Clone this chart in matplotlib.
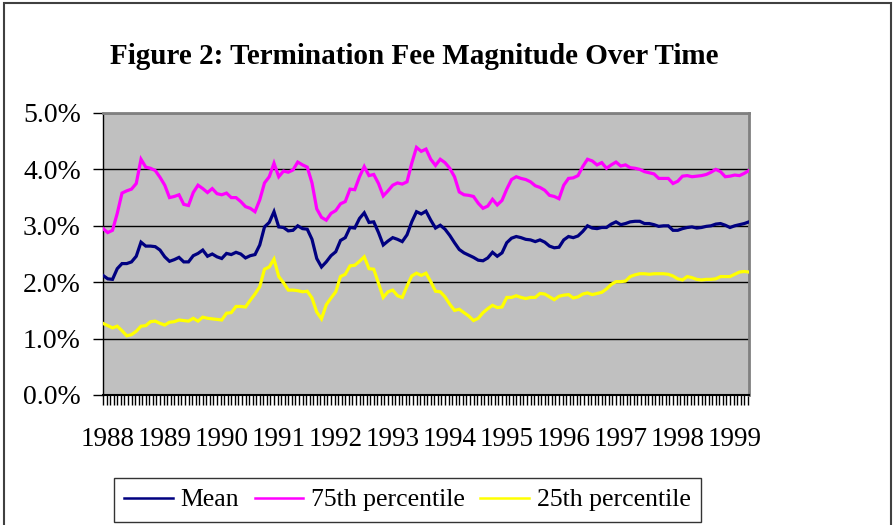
import numpy as np
import pandas as pd
import matplotlib
matplotlib.use("Agg")
import matplotlib.pyplot as plt
from matplotlib.patches import Rectangle
from matplotlib.ticker import FixedLocator, FuncFormatter

# ---- data (monthly, Dec 1987 .. Apr 1999), values in percent ----
months = pd.date_range("1987-12-01", periods=137, freq="MS")

mean_pct = [
    2.12, 2.06, 2.05, 2.24, 2.33, 2.33, 2.36, 2.46, 2.71, 2.64,
    2.64, 2.63, 2.57, 2.45, 2.37, 2.40, 2.44, 2.36, 2.36, 2.47,
    2.51, 2.57, 2.46, 2.50, 2.45, 2.42, 2.51, 2.49, 2.53, 2.50,
    2.43, 2.47, 2.49, 2.66, 2.98, 3.06, 3.25, 2.98, 2.97, 2.91,
    2.92, 3.00, 2.95, 2.94, 2.76, 2.42, 2.27, 2.36, 2.47, 2.54,
    2.74, 2.79, 2.97, 2.96, 3.13, 3.23, 3.06, 3.07, 2.88, 2.66,
    2.73, 2.79, 2.76, 2.72, 2.84, 3.07, 3.25, 3.21, 3.26, 3.10,
    2.96, 3.01, 2.94, 2.83, 2.70, 2.58, 2.52, 2.48, 2.44, 2.39,
    2.38, 2.43, 2.53, 2.46, 2.52, 2.70, 2.78, 2.81, 2.79, 2.76,
    2.75, 2.72, 2.75, 2.71, 2.64, 2.61, 2.62, 2.75, 2.81, 2.79,
    2.82, 2.90, 3.00, 2.96, 2.95, 2.97, 2.97, 3.03, 3.07, 3.02,
    3.04, 3.07, 3.08, 3.08, 3.04, 3.04, 3.02, 2.99, 3.00, 3.00,
    2.92, 2.92, 2.95, 2.97, 2.98, 2.96, 2.97, 2.99, 3.00, 3.03,
    3.04, 3.01, 2.97, 3.00, 3.02, 3.04, 3.07,
]

p75_pct = [
    2.95, 2.88, 2.92, 3.22, 3.58, 3.62, 3.65, 3.75, 4.18, 4.04,
    4.02, 3.98, 3.86, 3.72, 3.50, 3.52, 3.55, 3.38, 3.36, 3.59,
    3.72, 3.66, 3.59, 3.66, 3.57, 3.55, 3.58, 3.50, 3.50, 3.43,
    3.34, 3.31, 3.25, 3.46, 3.76, 3.87, 4.11, 3.87, 3.97, 3.95,
    3.99, 4.13, 4.08, 4.04, 3.76, 3.30, 3.15, 3.10, 3.22, 3.27,
    3.39, 3.43, 3.65, 3.64, 3.87, 4.05, 3.89, 3.91, 3.75, 3.53,
    3.62, 3.72, 3.76, 3.74, 3.78, 4.11, 4.39, 4.32, 4.36, 4.18,
    4.07, 4.18, 4.12, 4.02, 3.87, 3.60, 3.55, 3.54, 3.52, 3.40,
    3.31, 3.35, 3.47, 3.37, 3.45, 3.65, 3.82, 3.87, 3.84, 3.82,
    3.78, 3.71, 3.68, 3.63, 3.54, 3.52, 3.48, 3.72, 3.84, 3.85,
    3.89, 4.05, 4.18, 4.15, 4.08, 4.12, 4.02, 4.08, 4.13, 4.06,
    4.08, 4.03, 4.02, 4.00, 3.96, 3.94, 3.92, 3.84, 3.84, 3.84,
    3.75, 3.79, 3.88, 3.89, 3.87, 3.88, 3.89, 3.91, 3.95, 4.00,
    3.96, 3.87, 3.88, 3.90, 3.89, 3.93, 3.98,
]

p25_pct = [
    1.27, 1.23, 1.19, 1.22, 1.14, 1.05, 1.07, 1.13, 1.22, 1.23,
    1.30, 1.31, 1.27, 1.24, 1.29, 1.30, 1.33, 1.32, 1.31, 1.36,
    1.31, 1.38, 1.36, 1.35, 1.34, 1.33, 1.45, 1.46, 1.57, 1.57,
    1.56, 1.68, 1.79, 1.92, 2.23, 2.27, 2.41, 2.10, 1.99, 1.86,
    1.86, 1.85, 1.83, 1.84, 1.72, 1.47, 1.35, 1.60, 1.72, 1.83,
    2.10, 2.14, 2.29, 2.30, 2.37, 2.45, 2.24, 2.23, 1.98, 1.73,
    1.83, 1.86, 1.76, 1.73, 1.93, 2.11, 2.16, 2.12, 2.16, 2.01,
    1.84, 1.83, 1.74, 1.61, 1.50, 1.52, 1.46, 1.40, 1.32, 1.36,
    1.46, 1.53, 1.59, 1.55, 1.56, 1.73, 1.73, 1.76, 1.73, 1.71,
    1.73, 1.73, 1.80, 1.79, 1.74, 1.69, 1.75, 1.77, 1.78, 1.72,
    1.74, 1.79, 1.81, 1.78, 1.80, 1.82, 1.88, 1.96, 2.01, 2.01,
    2.02, 2.10, 2.13, 2.15, 2.15, 2.14, 2.15, 2.15, 2.15, 2.14,
    2.11, 2.06, 2.04, 2.10, 2.08, 2.05, 2.04, 2.05, 2.05, 2.06,
    2.10, 2.10, 2.10, 2.14, 2.18, 2.19, 2.18,
]

year_labels = [str(y) for y in range(1988, 2000)]
series_names = ["Mean", "75th percentile", "25th percentile"]
series_colors = ["#000080", "#FF00FF", "#FFFF00"]

# ---- figure ----
W, H = 894, 525
fig = plt.figure(figsize=(W / 100, H / 100), dpi=100)
fig.patch.set_facecolor("white")
plt.rcParams["font.family"] = ["Liberation Serif", "DejaVu Serif"]

# outer chart border
fig.patches.append(Rectangle((4 / W, -0.01), (891 - 4) / W, (H - 3) / H + 0.01,
                             transform=fig.transFigure, fill=False,
                             edgecolor="#404040", linewidth=1.5))

L, R, T, B = 103, 749, 113, 395
ax = fig.add_axes([L / W, (H - B) / H, (R - L) / W, (B - T) / H])
ax.set_facecolor("#C0C0C0")

x = months.year + (months.month - 1) / 12.0
x = np.asarray(x, dtype=float)

for vals, name, col in zip([mean_pct, p75_pct, p25_pct], series_names, series_colors):
    ax.plot(x, np.asarray(vals) / 100.0, color=col, lw=2.3, label=name,
            solid_joinstyle="miter", zorder=3)

ax.set_xlim(x[0], x[-1])
ax.set_ylim(0, 0.05)

ax.set_yticks(np.arange(0, 0.0501, 0.01))
ax.yaxis.set_major_formatter(FuncFormatter(lambda v, p: f"{v*100:.1f}%"))
ax.yaxis.grid(True, color="black", lw=1.0, zorder=1)
ax.set_axisbelow(True)

yr_pos = np.arange(1988, 2000)
ax.xaxis.set_major_locator(FixedLocator(yr_pos))
ax.set_xticklabels(year_labels)
ax.xaxis.set_minor_locator(FixedLocator(np.arange(x[0], x[-1] + 0.01, 1 / 16)))

ax.tick_params(axis="x", which="major", length=0, pad=23, labelsize=19.5)
ax.tick_params(axis="x", which="minor", length=7, width=1, color="black", direction="out")
ax.tick_params(axis="y", which="major", length=7, width=1, color="black",
               direction="out", pad=9, labelsize=20)

for s in ["top", "right"]:
    ax.spines[s].set_color("#808080")
    ax.spines[s].set_linewidth(2)
ax.spines["left"].set_color("black")
ax.spines["left"].set_linewidth(1)
ax.spines["bottom"].set_color("black")
ax.spines["bottom"].set_linewidth(1.5)

fig.text(414 / W, 1 - 57 / H, "Figure 2: Termination Fee Magnitude Over Time",
         ha="center", va="center", fontsize=21, fontweight="bold")

leg = fig.legend(loc="center", bbox_to_anchor=(407.5 / W, 1 - 500 / H), ncol=3,
                 fontsize=18.5, frameon=True, fancybox=False, handlelength=1.9,
                 handletextpad=0.3, columnspacing=0.6, borderpad=0.4,
                 borderaxespad=0)
leg.get_frame().set_edgecolor("black")
leg.get_frame().set_linewidth(1.0)
for line in leg.get_lines():
    line.set_linewidth(1.8)

fig.savefig("out.png", dpi=100)
